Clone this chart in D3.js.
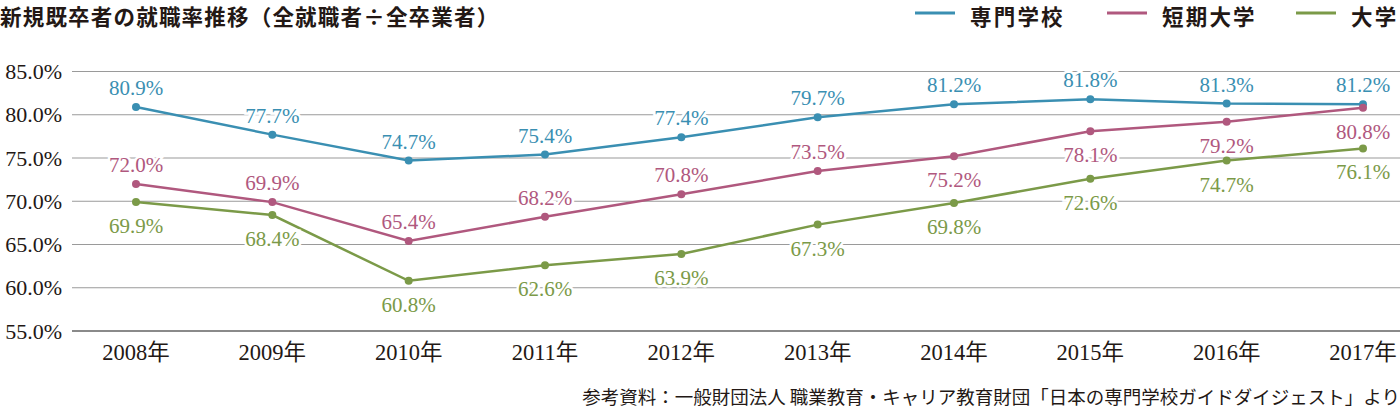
<!DOCTYPE html>
<html>
<head>
<meta charset="utf-8">
<script src="https://cdn.jsdelivr.net/npm/d3@7"></script>
<style>
    body { margin: 0; background: #fff; }
    svg { display: block; }
    .num { font-family: "Liberation Serif", "Noto Sans CJK JP", serif; }
    .jp { font-family: "Noto Sans CJK JP", sans-serif; }
</style>
</head>
<body>
<div id="chart"></div>
<script>
    var years = ["2008年", "2009年", "2010年", "2011年", "2012年", "2013年", "2014年", "2015年", "2016年", "2017年"];
    var senmon = [80.9, 77.7, 74.7, 75.4, 77.4, 79.7, 81.2, 81.8, 81.3, 81.2];
    var tanki = [72.0, 69.9, 65.4, 68.2, 70.8, 73.5, 75.2, 78.1, 79.2, 80.8];
    var daigaku = [69.9, 68.4, 60.8, 62.6, 63.9, 67.3, 69.8, 72.6, 74.7, 76.1];
    var yTicks = [55, 60, 65, 70, 75, 80, 85];
    // label above (true) or below (false) the point
    var tankiAbove = [true, true, true, true, true, true, false, false, false, false];

    var series = [
        { name: "専門学校", values: senmon, color: "#3a8fb2", above: years.map(function() { return true; }) },
        { name: "短期大学", values: tanki, color: "#b0587e", above: tankiAbove },
        { name: "大学", values: daigaku, color: "#7b9a48", above: years.map(function() { return false; }) }
    ];

    var width = 1400, height = 411;
    var svg = d3.select("#chart").append("svg").attr("width", width).attr("height", height);

    var x = d3.scalePoint().domain(years).range([136, 1363]);
    var y = d3.scaleLinear().domain([55, 85]).range([331, 71.5]);

    // grid
    svg.append("g").selectAll("line")
        .data(yTicks)
        .enter()
        .append("line")
        .attr("x1", 72).attr("x2", width)
        .attr("y1", function(d) { return y(d); })
        .attr("y2", function(d) { return y(d); })
        .attr("stroke", function(d) { return d === 55 ? "#8a8a8a" : "#9a9a9a"; })
        .attr("stroke-width", function(d) { return d === 55 ? 2 : 1.2; });

    // y labels
    svg.append("g").selectAll("text")
        .data(yTicks)
        .enter()
        .append("text")
        .attr("class", "num")
        .attr("x", 62)
        .attr("y", function(d) { return y(d) + 7.5; })
        .attr("text-anchor", "end")
        .attr("font-size", 22)
        .attr("fill", "#231815")
        .text(function(d) { return d3.format(".1f")(d) + "%"; });

    // x labels
    svg.append("g").selectAll("text")
        .data(years)
        .enter()
        .append("text")
        .attr("class", "num")
        .attr("x", function(d) { return x(d); })
        .attr("y", 360)
        .attr("text-anchor", "middle")
        .attr("font-size", 22.5)
        .attr("fill", "#231815")
        .text(function(d) { return d; });

    var line = d3.line()
        .x(function(d, i) { return x(years[i]); })
        .y(function(d) { return y(d); });

    series.forEach(function(s) {
        var g = svg.append("g");
        g.append("path")
            .datum(s.values)
            .attr("d", line)
            .attr("fill", "none")
            .attr("stroke", s.color)
            .attr("stroke-width", 2.5);
        g.selectAll("circle")
            .data(s.values)
            .enter()
            .append("circle")
            .attr("cx", function(d, i) { return x(years[i]); })
            .attr("cy", function(d) { return y(d); })
            .attr("r", 4)
            .attr("fill", s.color);
    });

    // data labels on top with white halo
    series.forEach(function(s) {
        svg.append("g").selectAll("text")
            .data(s.values)
            .enter()
            .append("text")
            .attr("class", "num")
            .attr("x", function(d, i) { return x(years[i]); })
            .attr("y", function(d, i) { return s.above[i] ? y(d) - 12 : y(d) + 31; })
            .attr("text-anchor", "middle")
            .attr("font-size", 21)
            .attr("fill", s.color)
            .attr("stroke", "#fff")
            .attr("stroke-width", 5)
            .attr("paint-order", "stroke")
            .text(function(d) { return d3.format(".1f")(d) + "%"; });
    });

    // title
    svg.append("text")
        .attr("class", "jp")
        .attr("x", 0)
        .attr("y", 25)
        .attr("font-size", 21.5)
        .attr("font-weight", "bold")
        .attr("letter-spacing", 1.2)
        .attr("fill", "#231815")
        .text("新規既卒者の就職率推移（全就職者÷全卒業者）");

    // legend
    var legendX = [915, 1107, 1296];
    series.forEach(function(s, i) {
        svg.append("line")
            .attr("x1", legendX[i]).attr("x2", legendX[i] + 40)
            .attr("y1", 13).attr("y2", 13)
            .attr("stroke", s.color)
            .attr("stroke-width", 3);
        svg.append("text")
            .attr("class", "jp")
            .attr("x", legendX[i] + 55)
            .attr("y", 25)
            .attr("font-size", 21.5)
            .attr("font-weight", "bold")
            .attr("letter-spacing", 2.2)
            .attr("fill", "#231815")
            .text(s.name);
    });

    // source
    svg.append("text")
        .attr("class", "jp")
        .attr("x", width)
        .attr("y", 404)
        .attr("text-anchor", "end")
        .attr("font-size", 18.5)
        .attr("fill", "#231815")
        .text("参考資料：一般財団法人 職業教育・キャリア教育財団「日本の専門学校ガイドダイジェスト」より");
</script>
</body>
</html>
